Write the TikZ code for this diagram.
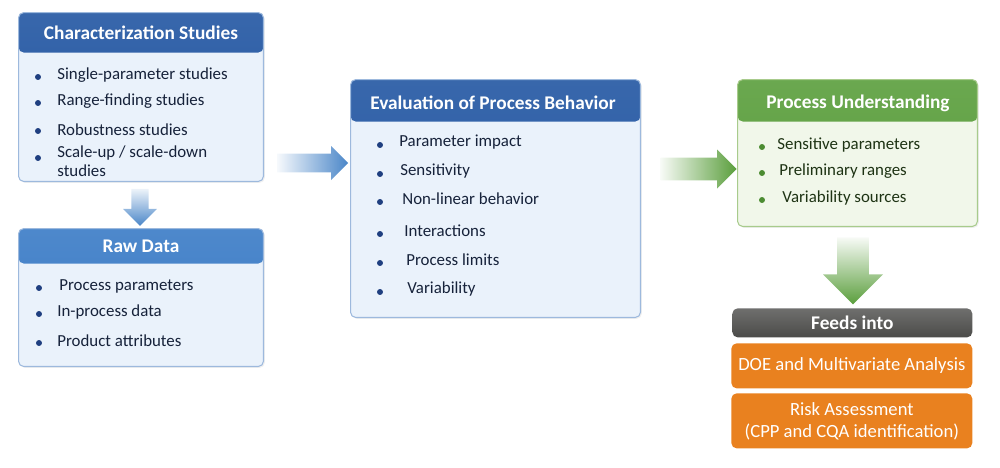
\documentclass[tikz,border=0pt]{standalone}
\usepackage{fontspec}
\setmainfont{Carlito}
\usepackage{tikz}
\usetikzlibrary{shapes.arrows, positioning, calc, shadows}

\definecolor{hdblue}{HTML}{2256A2}
\definecolor{rawblue}{HTML}{3A7BC6}
\definecolor{bodyblue}{HTML}{EAF2FB}
\definecolor{lineblue}{HTML}{9DB9DD}
\definecolor{dotblue}{HTML}{1F3F80}
\definecolor{txtblue}{HTML}{16223A}
\definecolor{hdgreen}{HTML}{5A9E3C}
\definecolor{bodygreen}{HTML}{F1F7EA}
\definecolor{linegreen}{HTML}{A8CB8C}
\definecolor{dotgreen}{HTML}{4C8C32}
\definecolor{txtgreen}{HTML}{1E3314}
\definecolor{arrowblue}{HTML}{4A86C8}
\definecolor{arrowgreen}{HTML}{5A9E3C}
\definecolor{feedgray}{HTML}{4B4B49}
\definecolor{feedorange}{HTML}{E9811F}

\begin{document}
\begin{tikzpicture}[
    x=0.02cm, y=-0.02cm,
    font=\fontsize{9.6}{11}\selectfont,
    panel/.style n args={4}{rectangle, draw=#1, fill=#2, rounded corners=3pt, line width=0.6pt,
        anchor=north west, inner sep=0pt,
        drop shadow={opacity=0.12, shadow xshift=0.8pt, shadow yshift=-0.8pt},
        path picture={\shade[top color=#3!90!white, bottom color=#3] (path picture bounding box.north west) rectangle ([yshift=-#4]path picture bounding box.north east);}},
    headtext/.style={text=white, font=\fontsize{11}{13}\selectfont\bfseries, inner sep=0pt},
    item/.style={anchor=west, inner sep=0pt, align=left, text=txtblue},
    gitem/.style={item, text=txtgreen},
    fatarrow/.style={single arrow, draw=none, inner sep=0pt, single arrow head extend=#1, minimum width=0pt},
    tagbox/.style={rectangle, rounded corners=3pt, anchor=north west, inner sep=0pt, align=center, text=white},
]
    \useasboundingbox (0,0) rectangle (1000,467);

    % left column
    \node[panel={lineblue}{bodyblue}{hdblue}{0.8cm}, minimum width=4.9cm, minimum height=3.38cm] (charbox) at (18,12) {};
    \node[headtext] (chartitle) at (141,33) {Characterization Studies};
    \foreach \y/\t [count=\i] in {75/Single-parameter studies, 101/Range-finding studies, 130/Robustness studies, 161/{Scale-up / scale-down\\studies}} {
        \node[item] (char\i) at (57,\y) {\t};
    }
    \foreach \y in {77,103,131,158} \fill[dotblue] (38,\y) circle (1.7pt);

    \node[panel={lineblue}{bodyblue}{rawblue}{0.7cm}, minimum width=4.9cm, minimum height=2.76cm] (rawbox) at (18,228) {};
    \node[headtext] (rawtitle) at (141,246) {Raw Data};
    \foreach \y/\x/\t [count=\i] in {286/59/Process parameters, 312/57/In-process data, 341/57/Product attributes} {
        \node[item] (raw\i) at (\x,\y) {\t};
        \fill[dotblue] (39,\y+2) circle (1.7pt);
    }

    % middle
    \node[panel={lineblue}{bodyblue}{hdblue}{0.84cm}, minimum width=5.8cm, minimum height=4.76cm] (evalbox) at (350,79) {};
    \node[headtext] (evaltitle) at (493,103) {Evaluation of Process Behavior};
    \foreach \y/\x/\t [count=\i] in {142/399/Parameter impact, 171/400/Sensitivity, 199/402/Non-linear behavior, 231/404/Interactions, 260/406/Process limits, 289/407/Variability} {
        \node[item] (eval\i) at (\x,\y) {\t};
        \fill[dotblue] (380,\y+3) circle (1.7pt);
    }

    % right column
    \node[panel={linegreen}{bodygreen}{hdgreen}{0.84cm}, minimum width=4.8cm, minimum height=2.94cm] (procbox) at (737,79) {};
    \node[headtext] (proctitle) at (858,103) {Process Understanding};
    \foreach \y/\x/\t [count=\i] in {145/777/Sensitive parameters, 171/779/Preliminary ranges, 198/782/Variability sources} {
        \node[gitem] (proc\i) at (\x,\y) {\t};
        \fill[dotgreen] (762,\y+2) circle (1.7pt);
    }

    \node[tagbox, minimum width=4.8cm, minimum height=0.58cm, top color=feedgray!80, bottom color=feedgray, font=\fontsize{11}{13}\selectfont\bfseries] (feeds) at (732,308) {Feeds into};
    \node[tagbox, fill=feedorange, minimum width=4.82cm, minimum height=0.9cm, font=\fontsize{10.6}{12.5}\selectfont] (doe) at (731,343) {DOE and Multivariate Analysis};
    \node[tagbox, fill=feedorange, minimum width=4.82cm, minimum height=1.1cm, font=\fontsize{10.6}{12.5}\selectfont] (risk) at (731,393) {Risk Assessment\\(CPP and CQA identification)};

    % flow arrows
    \node[fatarrow=0.15cm, minimum height=1.42cm, minimum width=0.68cm, text height=0.36cm, left color=arrowblue!5, right color=arrowblue] (arr1) at (308,163) {};
    \node[fatarrow=0.16cm, minimum height=1.52cm, minimum width=0.78cm, text height=0.44cm, left color=arrowgreen!5, right color=arrowgreen] (arr2) at (693,169) {};
    \node[fatarrow=0.16cm, shape border rotate=270, minimum height=0.74cm, minimum width=0.68cm, text width=0.32cm, text height=0pt, top color=arrowblue!10, bottom color=arrowblue] (arr3) at (140,203) {};
    \node[fatarrow=0.28cm, shape border rotate=270, minimum height=1.34cm, minimum width=1.2cm, text width=0.62cm, text height=0pt, top color=arrowgreen!5, bottom color=arrowgreen] (arr4) at (853,263) {};
\end{tikzpicture}
\end{document}
